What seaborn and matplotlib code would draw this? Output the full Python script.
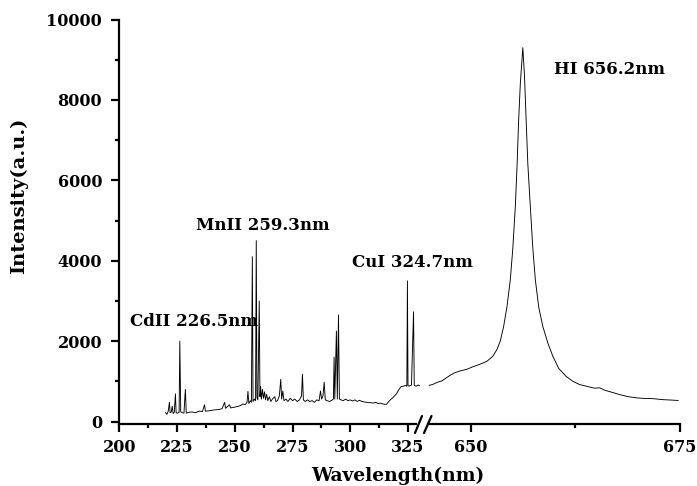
import numpy as np
import pandas as pd
import matplotlib
matplotlib.use("Agg")
import matplotlib.pyplot as plt
from matplotlib.lines import Line2D
from matplotlib.patches import Rectangle
import seaborn as sns

# ---------------- data ----------------
left_wl = [220.0, 220.6, 221.2, 221.7, 222.0, 222.5, 222.9, 223.3, 223.8, 224.3, 224.6, 225.2, 225.9,
           226.2, 226.6, 227.3, 228.0, 228.6, 229.0, 230.0, 231.5, 233.0, 234.5, 236.0, 236.9, 237.3,
           239.0, 241.0, 243.0, 244.5, 245.6, 246.0, 247.7, 248.2, 250.0, 251.5, 252.5, 253.5, 254.5,
           255.3, 255.7, 256.1, 256.8, 257.2, 257.6, 257.9, 258.5, 259.0, 259.3, 259.6, 260.0, 260.6,
           260.9, 261.2, 261.5, 262.0, 262.4, 262.9, 263.3, 263.8, 264.3, 265.0, 265.6, 266.3, 267.3,
           267.8, 268.5, 269.3, 269.9, 270.3, 270.8, 271.3, 272.2, 273.0, 274.0, 275.0, 276.0, 277.0,
           278.0, 278.9, 279.3, 279.7, 280.5, 281.5, 282.4, 283.5, 284.5, 285.5, 286.5, 287.1, 287.6,
           288.2, 288.7, 289.2, 290.0, 291.0, 292.0, 292.7, 293.0, 293.3, 294.0, 294.4, 294.9, 295.3,
           296.0, 297.0, 298.0, 299.0, 300.0, 301.0, 302.0, 303.0, 304.0, 305.0, 306.0, 307.0, 308.0,
           309.0, 310.0, 311.0, 312.0, 313.0, 314.0, 315.0, 315.7, 317.0, 318.5, 320.0, 321.0, 322.0,
           323.0, 324.0, 324.5, 324.75, 325.0, 325.5, 326.5, 327.4, 327.7, 328.5, 329.5, 330.0]
left_int = [230, 180, 260, 480, 220, 240, 380, 200, 230, 690, 220, 210, 230,
            2000, 240, 220, 210, 800, 210, 230, 240, 220, 260, 250, 420, 260,
            270, 290, 300, 320, 480, 330, 420, 340, 360, 380, 400, 440, 420,
            480, 750, 450, 520, 480, 4100, 500, 560, 520, 4500, 600, 540, 3000,
            620, 870, 560, 800, 580, 740, 540, 680, 520, 620, 500, 560, 620,
            500, 520, 640, 1050, 560, 760, 520, 560, 500, 580, 520, 560, 500,
            540, 640, 1180, 540, 500, 540, 500, 520, 480, 540, 520, 760, 560,
            640, 980, 540, 520, 500, 530, 560, 1600, 560, 2250, 560, 2650, 560,
            540, 520, 560, 520, 540, 510, 540, 500, 530, 500, 490, 480, 470,
            470, 460, 480, 450, 460, 440, 430, 430, 520, 600, 690, 790, 870,
            880, 900, 880, 3500, 900, 880, 910, 2730, 900, 880, 910, 890]

right_wl = [645.0, 645.5, 646.0, 646.5, 647.0, 647.5, 648.0, 648.7, 649.5, 650.3, 651.0, 651.9, 652.6,
            653.1, 653.5, 653.9, 654.3, 654.7, 655.0, 655.3, 655.5, 655.7, 655.9, 656.2, 656.4, 656.6,
            656.8, 657.1, 657.4, 657.7, 658.1, 658.6, 659.2, 659.8, 660.5, 661.4, 662.2, 663.0, 664.0,
            664.8, 665.4, 666.0, 667.0, 667.8, 668.8, 669.8, 670.8, 671.8, 673.0, 674.0, 674.8]
right_int = [900, 930, 980, 1010, 1080, 1150, 1210, 1260, 1300, 1370, 1420, 1500, 1620,
             1790, 2000, 2360, 2850, 3520, 4300, 5340, 6300, 7490, 8400, 9300, 8600, 7490,
             6400, 5340, 4300, 3520, 2850, 2360, 1950, 1620, 1320, 1120, 1000, 920, 870,
             830, 840, 780, 720, 670, 620, 590, 575, 570, 545, 535, 525]

x_major = [200, 225, 250, 275, 300, 325, 650, 675]
x_minor = [212.5, 237.5, 262.5, 287.5, 312.5, 662.5]
y_major = [0, 2000, 4000, 6000, 8000, 10000]
y_minor = [1000, 3000, 5000, 7000, 9000]

labels = ["CdII 226.5nm", "MnII 259.3nm", "CuI 324.7nm", "HI 656.2nm"]
label_px = [(194, 321.5), (263, 226), (412, 262.5), (610, 69)]

# ---------------- style ----------------
sns.set_style("ticks")
plt.rcParams["font.family"] = ["DejaVu Serif"]
plt.rcParams["font.weight"] = "bold"
plt.rcParams["text.color"] = "black"
plt.rcParams["axes.labelcolor"] = "black"
plt.rcParams["xtick.color"] = "black"
plt.rcParams["ytick.color"] = "black"

W, H = 697, 486
fig = plt.figure(figsize=(W / 100, H / 100), dpi=100)
ax = fig.add_axes([119.3 / W, 1 - 424 / H, (680 - 119.3) / W, (424 - 19.5) / H])

left_df = pd.DataFrame({"wl": left_wl, "I": left_int})
right_df = pd.DataFrame({"wl": right_wl, "I": right_int})
for df in (left_df, right_df):
    sns.lineplot(data=df, x="wl", y="I", ax=ax, color="black", lw=0.65,
                 estimator=None, sort=False)

BL, BR, R = 332.0, 644.4, 3.62


def fwd(x):
    x = np.asarray(x, dtype=float)
    return np.where(x <= BL, x, np.where(x >= BR, BL + (x - BR) * R, BL))


def inv(u):
    u = np.asarray(u, dtype=float)
    return np.where(u <= BL, u, BR + (u - BL) / R)


ax.set_xscale("function", functions=(fwd, inv))
ax.set_xlim(200, 675)
ax.set_ylim(-60, 10000)
ax.set_xticks(x_major)
ax.set_xticks(x_minor, minor=True)
ax.set_xticklabels([str(v) for v in x_major])
ax.set_yticks(y_major)
ax.set_yticks(y_minor, minor=True)
ax.set_yticklabels([str(v) for v in y_major])

for s in ("top", "right"):
    ax.spines[s].set_visible(False)
for s in ("left", "bottom"):
    ax.spines[s].set_linewidth(1.6)
    ax.spines[s].set_color("black")
ax.tick_params(axis="both", which="major", direction="out", length=5.8, width=1.6,
               labelsize=11.5, color="black", labelcolor="black")
ax.tick_params(axis="both", which="minor", direction="out", length=3, width=1.6, color="black")
ax.tick_params(axis="x", which="major", pad=5)
ax.tick_params(axis="y", which="major", pad=6.5)
for t in ax.get_xticklabels() + ax.get_yticklabels():
    t.set_fontweight("bold")

ax.set_xlabel("Wavelength(nm)", fontsize=13.5, fontweight="bold", color="black")
ax.set_ylabel("Intensity(a.u.)", fontsize=14, fontweight="bold", color="black")
ax.xaxis.set_label_coords((398 - 119.3) / (680 - 119.3), -(476 - 424) / (424 - 19.5))
ax.yaxis.set_label_coords(-(119.3 - 19) / (680 - 119.3), (424 - 196) / (424 - 19.5))
ax.xaxis.label.set_va("center")
ax.yaxis.label.set_va("center")

for txt, (px, py) in zip(labels, label_px):
    fig.text(px / W, 1 - py / H, txt, ha="center", va="center", fontsize=12,
             fontweight="bold", color="black")

# axis break marks
fig.add_artist(Rectangle(((416.5) / W, 1 - 427 / H), 10 / W, 6 / H, transform=fig.transFigure,
                         facecolor="white", edgecolor="none", zorder=5))
for x1, x2 in ((415, 422), (424, 431.5)):
    fig.add_artist(Line2D([x1 / W, x2 / W], [1 - 433 / H, 1 - 416 / H], transform=fig.transFigure,
                          color="black", lw=1.6, zorder=6))

fig.savefig("out.png", dpi=100)
